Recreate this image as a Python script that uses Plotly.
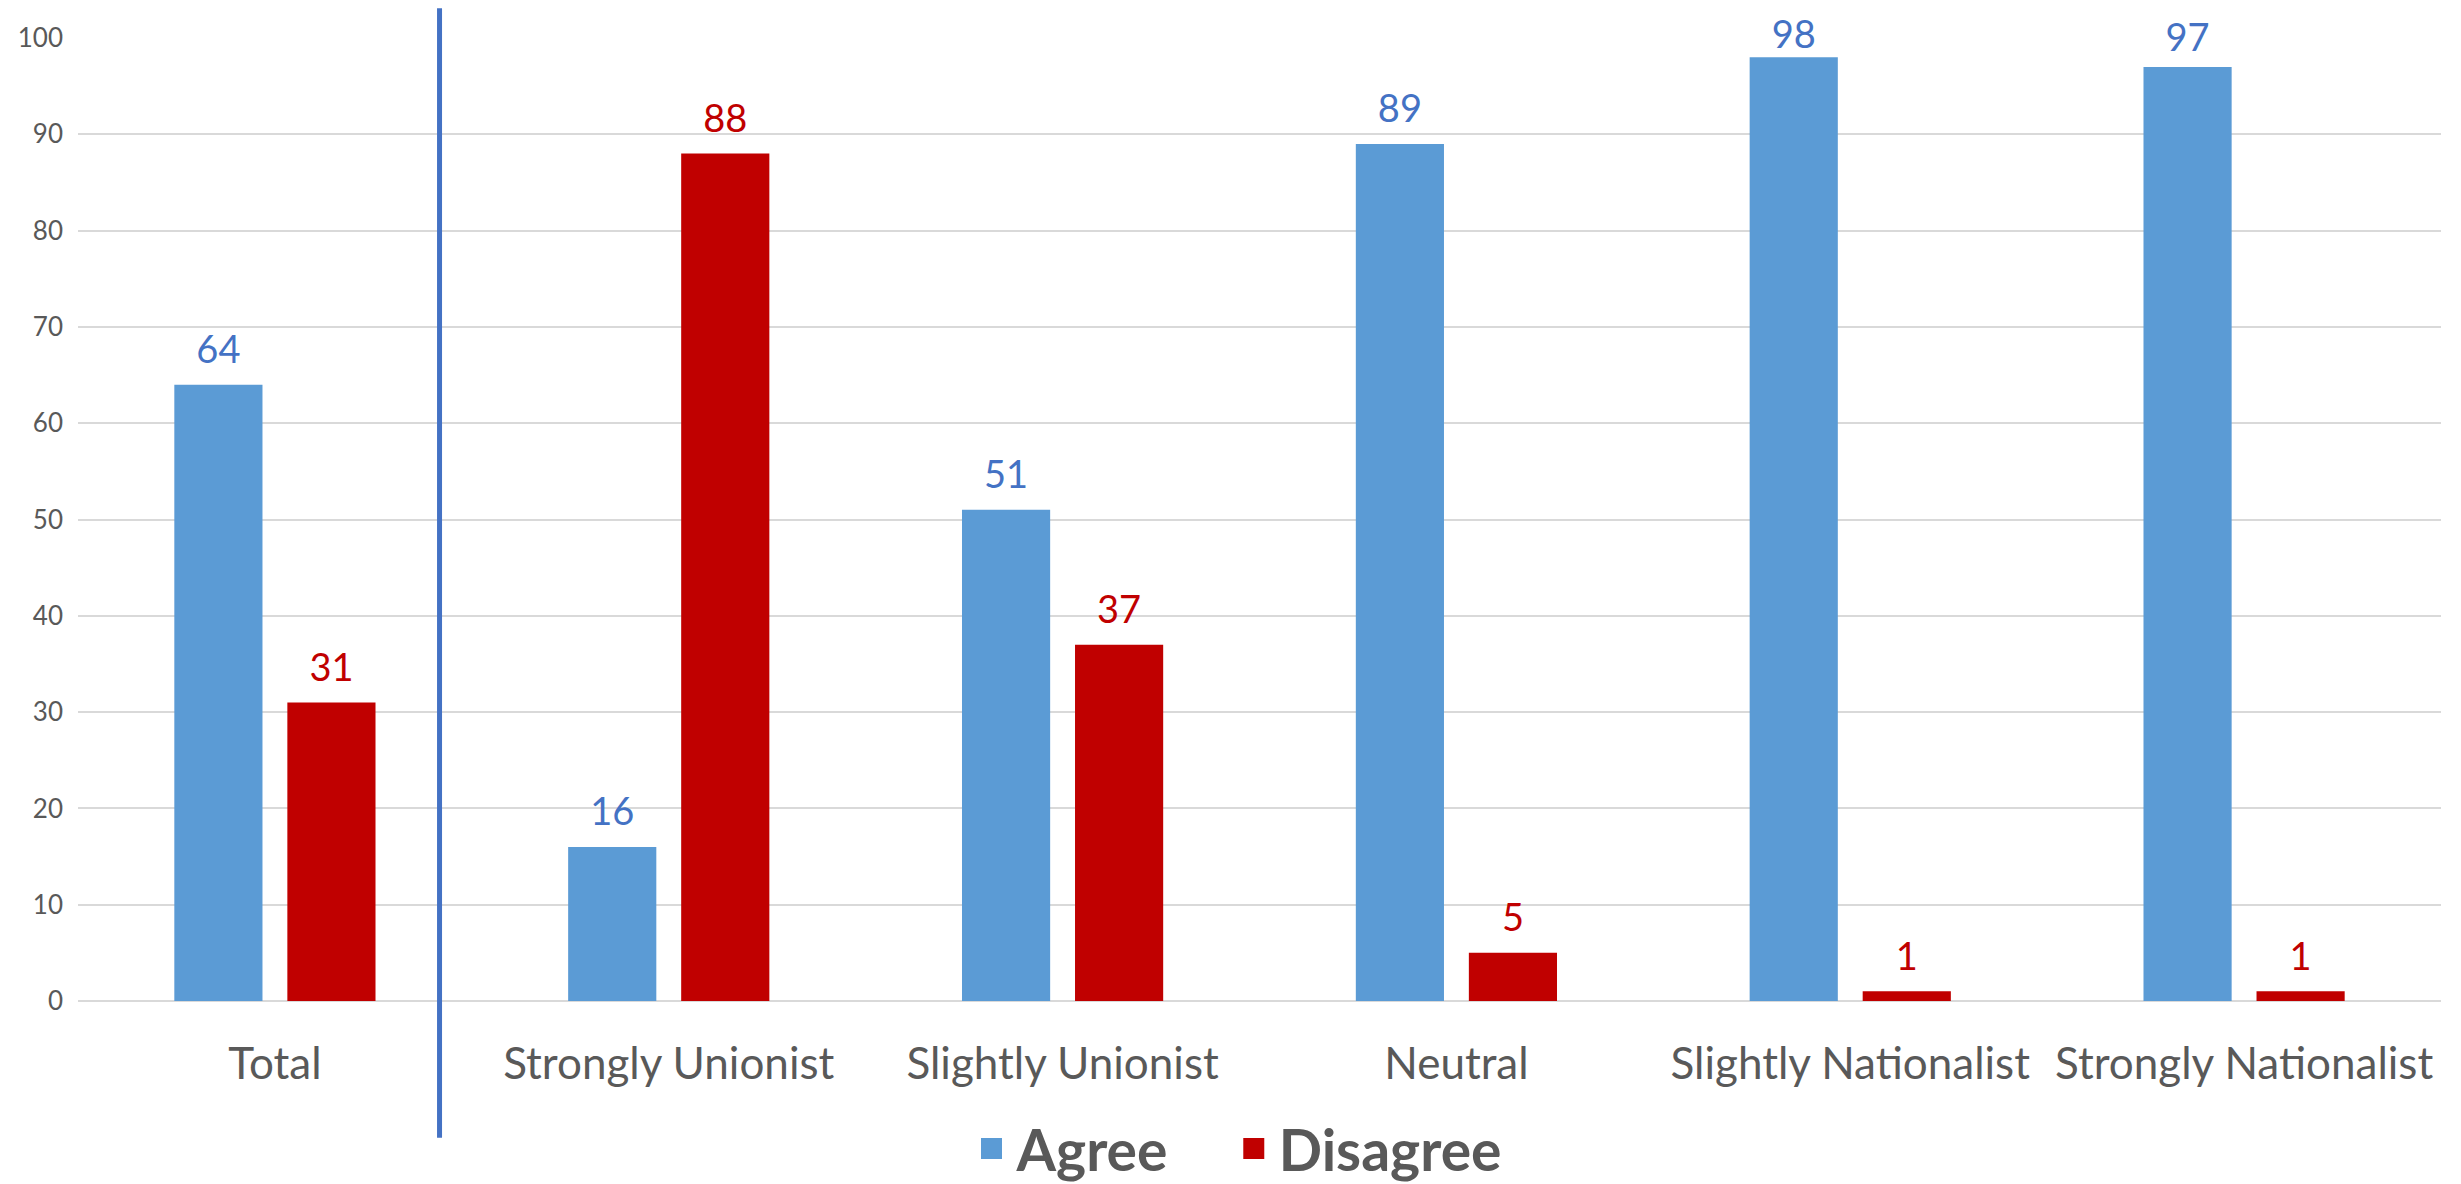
import plotly.graph_objects as go

categories = ["Total", "Strongly Unionist", "Slightly Unionist", "Neutral",
              "Slightly Nationalist", "Strongly Nationalist"]
agree = [64, 16, 51, 89, 98, 97]
disagree = [31, 88, 37, 5, 1, 1]
y_ticks = [0, 10, 20, 30, 40, 50, 60, 70, 80, 90, 100]

FONT = "Lato"
AGREE_C, AGREE_TXT = "#5B9BD5", "#4472C4"
DIS_C = "#C00000"
# label lift above bar tops (labels near the top of the chart sit a little lower, as in the original)
agree_label_lift = [18, 18, 18, 18, 0, 8]
disagree_label_lift = 18

fig = go.Figure()
fig.add_trace(go.Bar(name="Agree", x=categories, y=agree, offsetgroup="a", showlegend=False,
                     marker=dict(color=AGREE_C, line=dict(width=0))))
fig.add_trace(go.Bar(name="Disagree", x=categories, y=disagree, offsetgroup="d", showlegend=False,
                     marker=dict(color=DIS_C, line=dict(width=0))))
# data labels, grouped like the bars
fig.add_trace(go.Scatter(x=categories, y=agree, text=agree, mode="markers+text",
                         offsetgroup="a", textposition="top center", showlegend=False,
                         marker=dict(size=agree_label_lift, opacity=0), cliponaxis=False,
                         textfont=dict(color=AGREE_TXT, size=38, family=FONT),
                         hoverinfo="skip"))
fig.add_trace(go.Scatter(x=categories, y=disagree, text=disagree, mode="markers+text",
                         offsetgroup="d", textposition="top center", showlegend=False,
                         marker=dict(size=disagree_label_lift, opacity=0), cliponaxis=False,
                         textfont=dict(color=DIS_C, size=38, family=FONT),
                         hoverinfo="skip"))
# legend entries (larger square swatches than the bar default), one legend each
for name, col, grp, lg in [("Agree", AGREE_C, "a", "legend"), ("Disagree", DIS_C, "d", "legend2")]:
    fig.add_trace(go.Scatter(x=[None], y=[None], mode="markers", name=name, offsetgroup=grp,
                             legend=lg,
                             marker=dict(symbol="square", size=16, color=col,
                                         line=dict(width=5, color=col)),
                             hoverinfo="skip"))

# separator line between "Total" and the breakdown groups
fig.add_shape(type="line", xref="paper", yref="paper",
              x0=0.153, x1=0.153, y0=-0.142, y1=1.031,
              line=dict(color="#4472C4", width=5))

legend_style = dict(orientation="h", y=-0.1537, yanchor="middle", xanchor="left",
                    font=dict(size=57, family=FONT, color="#595959", weight="bold"),
                    itemwidth=40, itemsizing="trace", bgcolor="rgba(0,0,0,0)")

fig.update_layout(
    width=2461, height=1184,
    margin=dict(l=78, r=20, t=38, b=183, autoexpand=False),
    paper_bgcolor="white", plot_bgcolor="white",
    barmode="group", bargap=0.426, bargroupgap=0.22,
    scattermode="group", scattergap=0.426,
    font=dict(family=FONT, color="#595959"),
    showlegend=True,
    legend=dict(x=0.376, **legend_style),
    legend2=dict(x=0.487, **legend_style),
    xaxis=dict(tickfont=dict(size=44, color="#595959"), showgrid=False,
               showline=False, ticks="", ticklabelstandoff=33),
    yaxis=dict(range=[0, 100], tickvals=y_ticks, tickfont=dict(size=26, color="#595959"),
               showgrid=True, gridcolor="#D9D9D9", gridwidth=2,
               zeroline=True, zerolinecolor="#D9D9D9", zerolinewidth=2,
               showline=False, ticks="", ticklabelstandoff=14),
)

# the page's default 8px body margin would shift and crop the figure
fig.write_html("out.html", config={"displayModeBar": False},
               post_script="document.body.style.margin='0px';")
